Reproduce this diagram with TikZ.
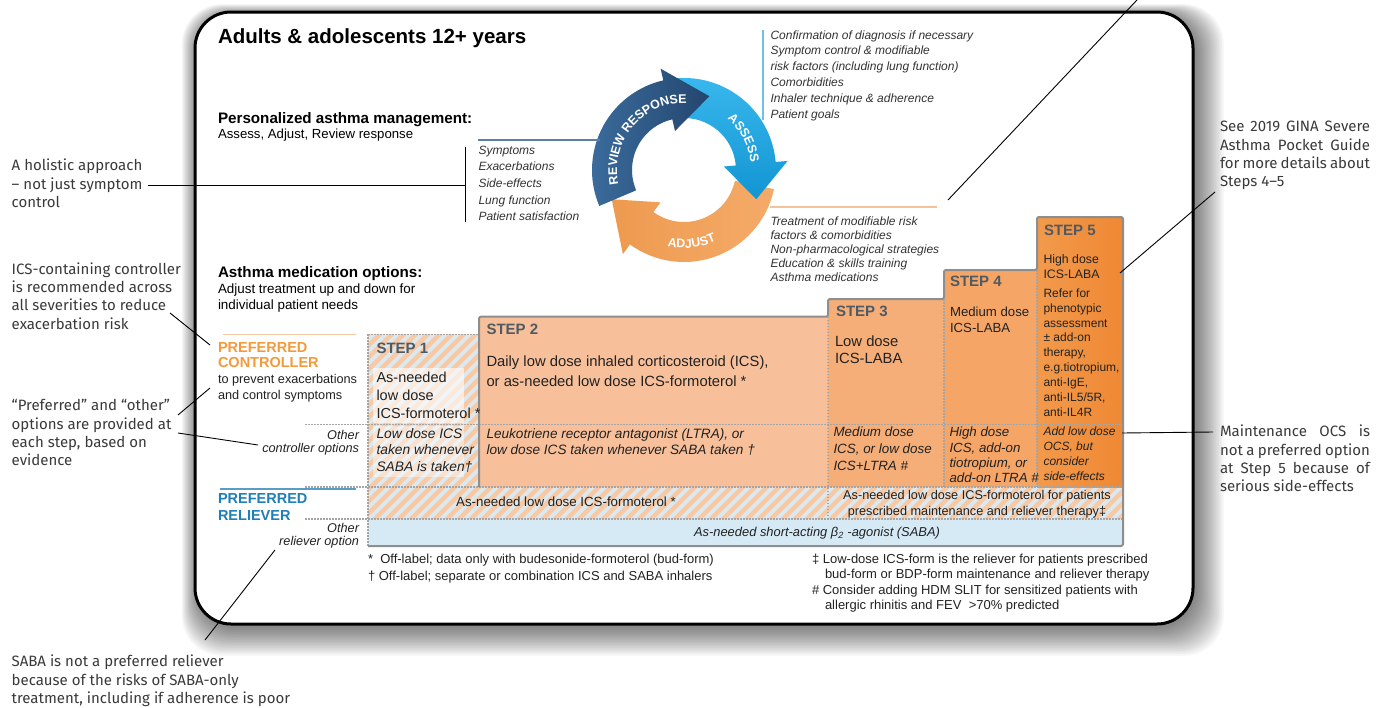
\documentclass[tikz,border=0pt]{standalone}
\usepackage{fontspec}
\setmainfont{Liberation Sans}
\newfontfamily\annfont{Fira Sans}
\usetikzlibrary{calc,decorations.text}
\definecolor{rvA}{HTML}{3B6D9D}
\definecolor{rvB}{HTML}{24466F}
\definecolor{asA}{HTML}{3AB8EE}
\definecolor{asB}{HTML}{1295D2}
\definecolor{adA}{HTML}{EE9A50}
\definecolor{adB}{HTML}{F4AB68}
\definecolor{prefo}{HTML}{F39A3C}
\definecolor{prefb}{HTML}{1F7FB8}
\definecolor{hblue}{HTML}{D6EAF6}
\definecolor{horg}{HTML}{F8C9A2}
\definecolor{stA}{HTML}{F8C09A}
\definecolor{stB}{HTML}{F6AE78}
\definecolor{stC}{HTML}{F5A566}
\definecolor{stD}{HTML}{F29A4C}
\definecolor{stE}{HTML}{EF8833}
\definecolor{steptxt}{HTML}{4F5A63}
\definecolor{txt}{HTML}{222222}
\definecolor{lsttxt}{HTML}{333333}
\definecolor{anntxt}{HTML}{3A3A3A}
\definecolor{edgec}{HTML}{8E8E8E}
\definecolor{dotc}{HTML}{A5A5A5}
\definecolor{symline}{HTML}{5B7FA6}
\definecolor{asline}{HTML}{6CC0EA}
\definecolor{adline}{HTML}{F5C29A}
\definecolor{relline}{HTML}{5B9BC8}
\definecolor{conline}{HTML}{F5C9A4}
\newcommand{\fsz}[2]{\fontsize{#1}{#2}\selectfont}
\newcommand{\cycArrow}[4]{%
  \shade[#1] ($(C)+(#2:92)$) arc[start angle=#2, end angle=#3, radius=92]
    -- ($(C)+(#3:104)$) -- ($(C)+(#4:78)$) -- ($(C)+(#3:40)$)
    -- ($(C)+(#3:52)$) arc[start angle=#3, end angle=#2, radius=52] -- cycle;}
\tikzset{
  tx/.style={inner sep=0pt, outer sep=0pt, anchor=base west, align=left, text=txt},
  txr/.style={tx, anchor=base east, align=right},
  ann/.style={tx, text=anntxt, font=\annfont\fsz{15}{18.4}},
  lst/.style={tx, text=lsttxt},
  steplbl/.style={tx, text=steptxt, font=\bfseries\fsz{15}{17}},
  cline/.style={line width=0.9pt, black},
  dotl/.style={dotc, line width=1.5pt, dash pattern=on 1.5pt off 1.5pt},
}
\begin{document}
\begin{tikzpicture}[x=1pt,y=1pt]
\useasboundingbox (0,0) rectangle (1387,-707);
\fill[white] (0,0) rectangle (1387,-707);
% glow / shadow
\foreach \i in {1,...,18}{
  \fill[black, opacity=0.03, rounded corners=40pt] (195-\i*0.9+3, -12+\i*0.6-3) rectangle (1193+\i*1.6+2, -624-\i*1.6-3);
}
% main frame
\draw[line width=3pt, fill=white, rounded corners=36pt] (195,-12) rectangle (1193,-624);

% ---------- cycle ----------
\coordinate (C) at (684,-170);
\cycArrow{left color=adA, right color=adB}{-12}{-126}{-158}
\cycArrow{top color=asA, bottom color=asB}{95}{5}{-22}
\cycArrow{left color=rvA, right color=rvB}{203}{103}{71}
\path[decorate, decoration={text along path, text color=white, text align=center,
   text={|\bfseries\fsz{12.5}{14}|REVIEW RESPONSE}}]
   ($(C)+(200:67)$) arc[start angle=200, end angle=80, radius=67];
\path[decorate, decoration={text along path, text color=white, text align=center,
   text={|\bfseries\fsz{12.5}{14}|ASSESS}}]
   ($(C)+(62:67)$) arc[start angle=62, end angle=-6, radius=67];
\path[decorate, decoration={text along path, text color=white, text align=center,
   text={|\bfseries\fsz{12.5}{14}|ADJUST}}]
   ($(C)+(244:78)$) arc[start angle=244, end angle=308, radius=78];

% list rules
\coordinate (symL) at (478,-140); \coordinate (symR) at (600,-140);
\draw[symline, line width=1.5pt] (symL) -- (symR);
\coordinate (asT) at (763,-30); \coordinate (asB) at (763,-120);
\draw[asline, line width=2pt] (asT) -- (asB);
\coordinate (adL) at (770,-207); \coordinate (adR) at (937,-207);
\draw[adline, line width=2pt] (adL) -- (adR);

% ---------- titles ----------
\node[tx, font=\bfseries\fsz{20.5}{24}, text=black] (title) at (218,-43) {Adults \& adolescents 12+ years};
\node[tx, font=\bfseries\fsz{15.2}{17}, text=black] (pam) at (218,-123) {Personalized asthma management:};
\node[tx, font=\fsz{13.2}{16}, text=black] (pam2) at (218,-138) {Assess, Adjust, Review response};

% lists (anchor = baseline of last line)
\node[lst, font=\itshape\fsz{12}{16.7}] (symlist) at (478.5,-220.8) {Symptoms\\Exacerbations\\Side-effects\\Lung function\\Patient satisfaction};
\node[lst, font=\itshape\fsz{12}{15.85}] (aslist) at (770.5,-118.3) {Confirmation of diagnosis if necessary\\Symptom control \& modifiable\\risk factors (including lung function)\\Comorbidities\\Inhaler technique \& adherence\\Patient goals};
\node[lst, font=\itshape\fsz{12}{14.2}] (adlist) at (770.5,-281.8) {Treatment of modifiable risk\\factors \& comorbidities\\Non-pharmacological strategies\\Education \& skills training\\Asthma medications};

% medication options
\node[tx, font=\bfseries\fsz{15.2}{17}, text=black] (amo) at (218,-277) {Asthma medication options:};
\node[tx, font=\fsz{13.4}{16}, text=black] (amo2) at (218,-309) {Adjust treatment up and down for\\individual patient needs};

% ---------- step table backgrounds ----------
\begin{scope}
  \clip (368,-334.3) rectangle (479,-487) (368,-487) rectangle (1123,-519);
  \fill[hblue] (368,-334) rectangle (1123,-519);
  \foreach \x in {130,142,...,1130} \draw[horg, line width=4.5pt] (\x,-560) -- ++(300,300);
\end{scope}
\fill[hblue] (368,-519) rectangle (1123,-546);
\fill[stA] (479,-316.7) rectangle (828,-487);
\fill[stB] (828,-299) rectangle (944,-487);
\fill[stC] (944,-270) rectangle (1037,-487);
\shade[left color=stD, right color=stE] (1037,-217) rectangle (1123,-487);
\fill[white, opacity=0.6] (373,-368) rectangle (464,-423);
\fill[white, opacity=0.45] (373,-426) rectangle (464,-477);

% dotted separators
\draw[dotl] (368,-334.3) -- (479,-334.3);
\draw[dotl] (368,-334.3) -- (368,-546);
\draw[dotl] (305,-424.3) -- (1123,-424.3);
\draw[dotl] (305,-487) -- (1123,-487);
\draw[dotl] (305,-519) -- (1123,-519);
\draw[dotl] (828,-316.7) -- (828,-519);
\draw[dotl] (944,-299) -- (944,-487);
\draw[dotl] (1037,-270) -- (1037,-487);
% staircase edge
\draw[edgec, line width=2pt, line join=round, rounded corners=2pt]
  (479,-487) -- (479,-316.7) -- (828,-316.7) -- (828,-299) -- (944,-299) -- (944,-270)
  -- (1037,-270) -- (1037,-217) -- (1123,-217) -- (1123,-546) -- (368,-546);

% ---------- left labels ----------
\coordinate (conL) at (223,-334.5); \coordinate (conR) at (356,-334.5);
\draw[conline, line width=1.5pt] (conL) -- (conR);
\node[tx, font=\bfseries\fsz{14.5}{15.3}, text=prefo] (pc) at (218,-367.3) {PREFERRED\\CONTROLLER};
\node[tx, font=\fsz{12.7}{16}] (pc2) at (218,-399) {to prevent exacerbations\\and control symptoms};
\node[txr, font=\itshape\fsz{12.7}{13}] (oc) at (359,-452) {Other\\controller options};
\coordinate (relL) at (220,-489); \coordinate (relR) at (356,-489);
\draw[relline, line width=1.5pt] (relL) -- (relR);
\node[tx, font=\bfseries\fsz{14.5}{17}, text=prefb] (pr) at (218,-520) {PREFERRED\\RELIEVER};
\node[txr, font=\itshape\fsz{12.7}{13.5}] (orl) at (359,-545.5) {Other\\reliever option};

% ---------- step texts ----------
\node[steplbl] (s1) at (376.5,-353) {STEP 1};
\node[steplbl] (s2) at (486.5,-334) {STEP 2};
\node[steplbl] (s3) at (836,-316) {STEP 3};
\node[steplbl] (s4) at (950,-286.7) {STEP 4};
\node[steplbl] (s5) at (1044,-235) {STEP 5};

\node[tx, font=\fsz{14.5}{17.8}] (s1a) at (376.5,-418.3) {As-needed\\low dose\\ICS-formoterol *};
\node[tx, font=\itshape\fsz{13.8}{16.6}] (s1b) at (376.5,-471.5) {Low dose ICS\\taken whenever\\SABA is taken\textdagger};
\node[tx, font=\fsz{14.8}{20}] (s2a) at (486.5,-386.7) {Daily low dose inhaled corticosteroid (ICS),\\or as-needed low dose ICS-formoterol *};
\node[tx, font=\itshape\fsz{13.6}{16.5}] (s2b) at (486.5,-454.8) {Leukotriene receptor antagonist (LTRA), or\\low dose ICS taken whenever SABA taken \textdagger};
\node[tx, font=\fsz{14.8}{17.3}] (s3a) at (835,-363.3) {Low dose\\ICS-LABA};
\node[tx, font=\itshape\fsz{13.4}{16.7}] (s3b) at (833.5,-470.1) {Medium dose\\ICS, or low dose\\ICS+LTRA \#};
\node[tx, font=\fsz{13.2}{16.7}] (s4a) at (950,-332.7) {Medium dose\\ICS-LABA};
\node[tx, font=\itshape\fsz{13.3}{15.3}] (s4b) at (949.5,-482.6) {High dose\\ICS, add-on\\tiotropium, or\\add-on LTRA \#};
\node[tx, font=\fsz{12.3}{15}] (s5a) at (1043.5,-278.3) {High dose\\ICS-LABA};
\node[tx, font=\fsz{12}{14.85}] (s5b) at (1043.5,-416.1) {Refer for\\phenotypic\\assessment\\± add-on\\therapy,\\e.g.tiotropium,\\anti-IgE,\\anti-IL5/5R,\\anti-IL4R};
\node[tx, font=\itshape\fsz{12}{14.8}] (s5c) at (1043.5,-480.1) {Add low dose\\OCS, but\\consider\\side-effects};

\node[tx, anchor=base, font=\fsz{13.3}{15}] (rel1) at (566,-506.5) {As-needed low dose ICS-formoterol *};
\node[tx, anchor=base, align=center, font=\fsz{12.7}{15.7}] (rel2) at (977,-515) {As-needed low dose ICS-formoterol for patients\\prescribed maintenance and reliever therapy\textdaggerdbl};
\node[tx, anchor=base, font=\itshape\fsz{12.9}{15}] (saba) at (817,-536.7) {As-needed short-acting β\textsubscript{2} -agonist (SABA)};

% ---------- footnotes ----------
\node[tx, font=\fsz{13}{16.8}] (fn1) at (368,-580.3) {*\ \ Off-label; data only with budesonide-formoterol (bud-form)\\\textdagger\ Off-label; separate or combination ICS and SABA inhalers};
\node[tx, font=\fsz{13}{15.3}] (fn2) at (812,-609.4) {\textdaggerdbl\ Low-dose ICS-form is the reliever for patients prescribed\\\hspace*{13pt}bud-form or BDP-form maintenance and reliever therapy\\\#\ Consider adding HDM SLIT for sensitized patients with\\\hspace*{13pt}allergic rhinitis and FEV\ \ >70\% predicted};

% ---------- annotations ----------
\node[ann] (aH) at (11.7,-207.5) {A holistic approach\\– not just symptom\\control};
\node[ann] (aI) at (11.7,-329.2) {ICS-containing controller\\is recommended across\\all severities to reduce\\exacerbation risk};
\node[ann] (aP) at (11.7,-465.9) {“Preferred” and “other”\\options are provided at\\each step, based on\\evidence};
\node[ann] (aS) at (11.7,-703.5) {SABA is not a preferred reliever\\because of the risks of SABA-only\\treatment, including if adherence is poor};
\node[ann] (aG) at (1220,-186.9) {\makebox[150pt][s]{See 2019 GINA Severe}\\\makebox[150pt][s]{Asthma Pocket Guide}\\\makebox[150pt][s]{for more details about}\\Steps 4–5};
\node[ann] (aM) at (1220,-491.9) {\makebox[150pt][s]{Maintenance OCS is}\\\makebox[150pt][s]{not a preferred option}\\\makebox[150pt][s]{at Step 5 because of}\\serious side-effects};

% ---------- connectors ----------
\coordinate (hA) at (148,-185); \coordinate (hB) at (465,-185);
\draw[cline] (hA) -- (hB);
\coordinate (bT) at (465,-147); \coordinate (bB) at (465,-222);
\draw[cline] (bT) -- (bB);
\coordinate (iA) at (170,-313); \coordinate (iB) at (210,-345);
\draw[cline] (iA) -- (iB);
\coordinate (pA) at (178,-415); \coordinate (pB) at (210,-388);
\draw[cline] (pA) -- (pB);
\coordinate (qA) at (178,-433); \coordinate (qB) at (258,-445);
\draw[cline] (qA) -- (qB);
\coordinate (sA) at (205,-640); \coordinate (sB) at (275,-550);
\draw[cline] (sA) -- (sB);
\coordinate (gA) at (1215,-192); \coordinate (gB) at (1120,-273);
\draw[cline] (gA) -- (gB);
\coordinate (mA) at (1213,-432); \coordinate (mB) at (1122,-433);
\draw[cline] (mA) -- (mB);
\coordinate (tA) at (948,-200); \coordinate (tB) at (1137,0);
\draw[cline] (tA) -- (tB);
\end{tikzpicture}
\end{document}
